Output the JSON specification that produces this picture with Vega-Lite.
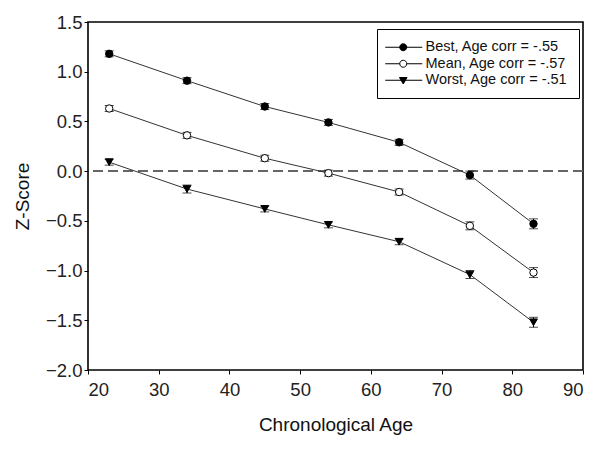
{
  "$schema": "https://vega.github.io/schema/vega-lite/v6.json",
  "width": 495,
  "height": 348,
  "autosize": {"type": "none"},
  "padding": {"left": 88, "top": 22, "right": 17, "bottom": 80},
  "background": "white",
  "config": {
    "font": "Liberation Sans",
    "view": {"stroke": "black", "strokeWidth": 1.6},
    "axis": {
      "grid": false,
      "domain": false,
      "tickColor": "black",
      "tickSize": 4,
      "labelFontSize": 18.5,
      "labelColor": "#222",
      "titleFontSize": 19,
      "titleFontWeight": "normal",
      "titleColor": "#111"
    }
  },
  "data": {
    "values": [
      {"age": 23, "z": 1.18, "err": 0.03, "series": "Best, Age corr = -.55"},
      {"age": 34, "z": 0.91, "err": 0.03, "series": "Best, Age corr = -.55"},
      {"age": 45, "z": 0.65, "err": 0.03, "series": "Best, Age corr = -.55"},
      {"age": 54, "z": 0.49, "err": 0.03, "series": "Best, Age corr = -.55"},
      {"age": 64, "z": 0.29, "err": 0.03, "series": "Best, Age corr = -.55"},
      {"age": 74, "z": -0.04, "err": 0.04, "series": "Best, Age corr = -.55"},
      {"age": 83, "z": -0.53, "err": 0.05, "series": "Best, Age corr = -.55"},
      {"age": 23, "z": 0.63, "err": 0.03, "series": "Mean, Age corr = -.57"},
      {"age": 34, "z": 0.36, "err": 0.03, "series": "Mean, Age corr = -.57"},
      {"age": 45, "z": 0.13, "err": 0.03, "series": "Mean, Age corr = -.57"},
      {"age": 54, "z": -0.02, "err": 0.03, "series": "Mean, Age corr = -.57"},
      {"age": 64, "z": -0.21, "err": 0.03, "series": "Mean, Age corr = -.57"},
      {"age": 74, "z": -0.55, "err": 0.04, "series": "Mean, Age corr = -.57"},
      {"age": 83, "z": -1.02, "err": 0.05, "series": "Mean, Age corr = -.57"},
      {"age": 23, "z": 0.09, "err": 0.03, "series": "Worst, Age corr = -.51"},
      {"age": 34, "z": -0.18, "err": 0.04, "series": "Worst, Age corr = -.51"},
      {"age": 45, "z": -0.38, "err": 0.03, "series": "Worst, Age corr = -.51"},
      {"age": 54, "z": -0.54, "err": 0.03, "series": "Worst, Age corr = -.51"},
      {"age": 64, "z": -0.71, "err": 0.03, "series": "Worst, Age corr = -.51"},
      {"age": 74, "z": -1.04, "err": 0.04, "series": "Worst, Age corr = -.51"},
      {"age": 83, "z": -1.52, "err": 0.05, "series": "Worst, Age corr = -.51"}
    ]
  },
  "encoding": {
    "x": {
      "field": "age", "type": "quantitative",
      "scale": {"domain": [20, 90], "nice": false},
      "axis": {"values": [20, 30, 40, 50, 60, 70, 80, 90], "title": "Chronological Age", "titlePadding": 17, "labelPadding": 6}
    }
  },
  "layer": [
    {
      "mark": {"type": "rule", "strokeDash": [10, 5], "color": "#666", "strokeWidth": 1.3},
      "encoding": {"y": {"datum": 0, "type": "quantitative"}, "x": null}
    },
    {
      "mark": {"type": "line", "color": "#333", "strokeWidth": 1},
      "encoding": {
        "y": {"field": "z", "type": "quantitative", "title": "Z-Score", "scale": {"domain": [-2, 1.5], "nice": false},
          "axis": {"values": [-2, -1.5, -1, -0.5, 0, 0.5, 1, 1.5], "format": ".1f", "title": "Z-Score", "titlePadding": 13, "labelPadding": 2}},
        "detail": {"field": "series"}
      }
    },
    {
      "transform": [
        {"calculate": "datum.z - datum.err", "as": "lo"},
        {"calculate": "datum.z + datum.err", "as": "hi"}
      ],
      "mark": {"type": "errorbar", "ticks": {"size": 9, "color": "black"}, "rule": {"color": "black"}},
      "encoding": {
        "y": {"field": "lo", "type": "quantitative", "title": "Z-Score"},
        "y2": {"field": "hi"},
        "detail": {"field": "series"}
      }
    },
    {
      "transform": [{"filter": "indexof(datum.series, 'Worst') < 0"}],
      "mark": {"type": "point", "shape": "circle", "filled": true, "size": 55, "stroke": "black", "strokeWidth": 1, "opacity": 1},
      "encoding": {
        "y": {"field": "z", "type": "quantitative", "title": "Z-Score"},
        "fill": {
          "field": "series", "type": "nominal",
          "scale": {"domain": ["Best, Age corr = -.55", "Mean, Age corr = -.57", "Worst, Age corr = -.51"], "range": ["black", "white", "black"]}
        }
      }
    },
    {
      "transform": [{"filter": "indexof(datum.series, 'Worst') >= 0"}],
      "mark": {"type": "point", "shape": "triangle-down", "filled": true, "size": 60, "color": "black", "stroke": "black", "strokeWidth": 1, "opacity": 1},
      "encoding": {
        "y": {"field": "z", "type": "quantitative", "title": "Z-Score"}
      }
    },
    {
      "transform": [{"filter": "false"}],
      "mark": {"type": "point", "filled": true, "stroke": "black", "strokeWidth": 1},
      "encoding": {
        "y": {"field": "z", "type": "quantitative", "title": "Z-Score"},
        "shape": {
          "field": "series", "type": "nominal",
          "scale": {
            "domain": ["Best, Age corr = -.55", "Mean, Age corr = -.57", "Worst, Age corr = -.51"],
            "range": [
              "M-2,0H5.4M0.9,0A0.7,0.7 0 1,1 2.3,0A0.7,0.7 0 1,1 0.9,0Z",
              "M-2,0H0.9M2.3,0H5.4M0.9,0A0.7,0.7 0 1,1 2.3,0A0.7,0.7 0 1,1 0.9,0Z",
              "M-2,0H5.4M0.85,-0.55H2.35L1.6,0.75Z"
            ]
          },
          "legend": {
            "title": null,
            "orient": "none",
            "legendX": 289,
            "legendY": 7,
            "padding": 11,
            "strokeColor": "black",
            "fillColor": "white",
            "labelFontSize": 14.5,
            "labelColor": "#111",
            "labelOffset": 23,
            "symbolSize": 100,
            "symbolStrokeColor": "black",
            "symbolStrokeWidth": 1,
            "symbolOpacity": 1,
            "rowPadding": 1.5
          }
        },
        "fill": {
          "field": "series", "type": "nominal"
        }
      }
    }
  ]
}
